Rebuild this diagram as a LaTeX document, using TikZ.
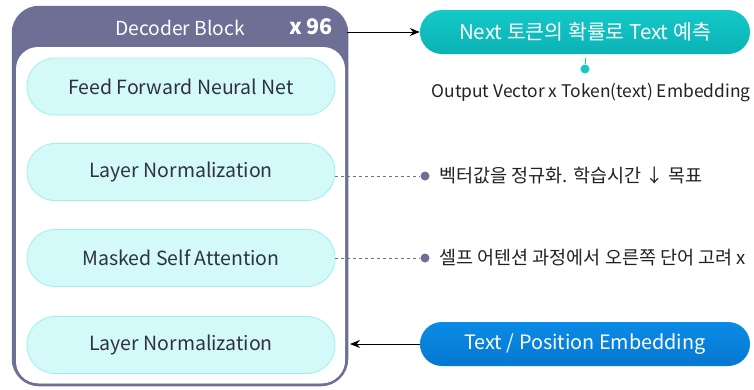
\documentclass[tikz,border=0pt]{standalone}
\usepackage{fontspec}
\setmainfont{Noto Sans CJK KR}
\usetikzlibrary{arrows.meta}
\definecolor{blockpurple}{HTML}{6E6F95}
\definecolor{pillfill}{HTML}{D3FAF9}
\definecolor{pillline}{HTML}{A0EEF0}
\definecolor{pilltext}{HTML}{2E3142}
\definecolor{tealtop}{HTML}{14C8C8}
\definecolor{tealbot}{HTML}{0BB3B5}
\definecolor{bluetop}{HTML}{0A8BE6}
\definecolor{bluebot}{HTML}{0678D0}
\definecolor{dotcol}{HTML}{6E6F95}
\definecolor{notetext}{HTML}{222222}
\tikzset{
  layerpill/.style={draw=pillline, line width=0.8pt, fill=pillfill, rounded corners=28pt,
    minimum width=308pt, minimum height=57pt, font=\fontsize{19.5}{22}\selectfont, text=pilltext},
  outpill/.style={rounded corners=22pt, minimum width=330pt, minimum height=44pt,
    text=white},
  notetxt/.style={font=\fontsize{18.5}{21}\selectfont, text=notetext, anchor=west},
  dashlink/.style={draw=blockpurple, dashed, line width=0.7pt},
  notedot/.style={circle, fill=dotcol, inner sep=0pt, minimum size=9pt},
  flow/.style={-{Stealth[length=10pt,width=8pt]}, line width=0.9pt, black}
}
\begin{document}
\begin{tikzpicture}[x=1pt,y=-1pt]
\useasboundingbox[fill=white] (0,0) rectangle (754,389);
% decoder block: purple header, white body, purple outline
\fill[blockpurple, rounded corners=26pt] (13,7) rectangle (347,385);
\fill[white, rounded corners=22pt] (16,47) rectangle (345,383.5);
\draw[draw=blockpurple, line width=2.5pt, rounded corners=26pt]
  (13,7) rectangle (347,385);
\node[text=white, font=\fontsize{19.3}{22}\selectfont] (hdr) at (180,28) {Decoder Block};
\node[text=white, font=\bfseries\fontsize{21.5}{24}\selectfont] (rep) at (311,26.5) {x 96};
% layers
\node[layerpill] (ffn) at (181,86.5) {\raisebox{-1.5pt}{Feed Forward Neural Net}};
\node[layerpill] (ln1) at (181,172) {\raisebox{-1.5pt}{Layer Normalization}};
\node[layerpill] (msa) at (181,258) {\raisebox{-1.5pt}{Masked Self Attention}};
\node[layerpill] (ln2) at (181,345) {\raisebox{-1.5pt}{Layer Normalization}};
% output pill
\node[outpill, top color=tealtop, bottom color=tealbot, font=\fontsize{20.5}{23}\selectfont]
  (next) at (585,32) {Next 토큰의 확률로 Text 예측};
\node[circle, fill=tealtop, inner sep=0pt, minimum size=9pt] (odot) at (585,69) {};
\draw[tealtop, line width=0.8pt] (odot.north) -- ++(0,-6);
\node[font=\fontsize{17.4}{20}\selectfont, text=notetext] (onote) at (591,93)
  {Output Vector x Token(text) Embedding};
\draw[flow] (347,32) -- (next.west);
% input pill
\node[outpill, top color=bluetop, bottom color=bluebot, font=\fontsize{19.8}{22}\selectfont]
  (inp) at (585,344) {Text / Position Embedding};
\draw[flow] (inp.west) -- (350,344);
% annotations
\node[notedot] (d1) at (425,176) {};
\node[notedot] (d2) at (425,258) {};
\draw[dashlink] (ln1.east |- d1) -- (d1);
\draw[dashlink] (msa.east |- d2) -- (d2);
\node[notetxt] (n1) at (436,176) {벡터값을 정규화. 학습시간 ↓ 목표};
\node[notetxt] (n2) at (436,258) {셀프 어텐션 과정에서 오른쪽 단어 고려 x};
\end{tikzpicture}
\end{document}
